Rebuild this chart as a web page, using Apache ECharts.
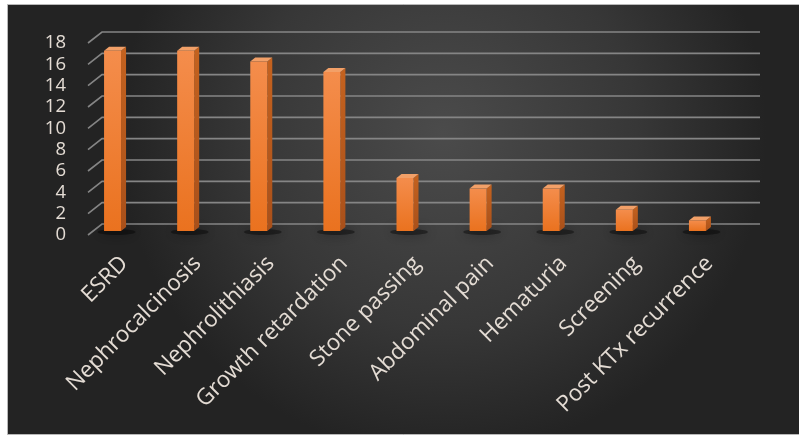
<!DOCTYPE html>
<html>
<head>
<meta charset="utf-8">
<script src="https://cdn.jsdelivr.net/npm/echarts@6/dist/echarts.min.js"></script>
<style>
html,body{margin:0;padding:0;background:#ffffff;}
#chart{width:799px;height:437px;}
</style>
</head>
<body>
<div id="chart"></div>
<script>
const categories = ['ESRD', 'Nephrocalcinosis', 'Nephrolithiasis', 'Growth retardation', 'Stone passing', 'Abdominal pain', 'Hematuria', 'Screening', 'Post KTx recurrence'];
const values = [17, 17, 16, 15, 5, 4, 4, 2, 1];
const yTicks = [0, 2, 4, 6, 8, 10, 12, 14, 16, 18];

const TEXT = '#e4dcd4';
const DX = 14, DY = 11; // back-wall depth offset

const chart = echarts.init(document.getElementById('chart'));

const option = {
  animation: false,
  graphic: [{
    type: 'rect', z: -10, silent: true,
    shape: { x: 7.5, y: 4.5, width: 792, height: 430 },
    style: {
      fill: new echarts.graphic.RadialGradient(0.55, 0.3, 0.75, [
        { offset: 0, color: '#4b4b4b' },
        { offset: 0.6, color: '#373737' },
        { offset: 1, color: '#232323' }
      ]),
      stroke: '#b8b8b8', lineWidth: 1
    }
  }],
  grid: [
    { left: 88, top: 43, width: 658, height: 192 },
    { left: 76, top: 40.2, width: 658, height: 190.8 }
  ],
  xAxis: [
    {
      gridIndex: 0, type: 'category', data: categories,
      axisLine: { show: false }, axisTick: { show: false },
      axisLabel: { rotate: 45, margin: 25, interval: 0, color: TEXT, fontSize: 22.5, fontFamily: 'Open Sans' }
    },
    { gridIndex: 1, type: 'category', data: categories, show: false }
  ],
  yAxis: [
    {
      gridIndex: 0, type: 'value', min: 0, max: 18, interval: 2,
      axisLine: { show: false }, axisTick: { show: false }, splitLine: { show: false },
      axisLabel: { margin: 22, color: TEXT, fontSize: 18.5, fontFamily: 'Open Sans' }
    },
    { gridIndex: 1, type: 'value', min: 0, max: 18, interval: 2, show: false, splitLine: { show: false } }
  ],
  series: [
    {
      type: 'custom', xAxisIndex: 0, yAxisIndex: 0, silent: true, z: 1,
      data: yTicks.map(v => [0, v]),
      renderItem: function (params, api) {
        const cs = params.coordSys;
        const y = api.coord([0, api.value(1)])[1];
        const x0 = cs.x;
        return {
          type: 'polyline',
          shape: { points: [[x0, y], [x0 + DX, y - DY], [x0 + DX + cs.width, y - DY]] },
          style: { stroke: '#858585', lineWidth: 1.6, fill: null }
        };
      }
    },
    {
      type: 'custom', xAxisIndex: 1, yAxisIndex: 1, silent: true, z: 3,
      data: values.map((v, i) => [i, v]),
      renderItem: function (params, api) {
        const top = api.coord([api.value(0), api.value(1)]);
        const bot = api.coord([api.value(0), 0]);
        const w = 17, dx = 5, dy = 4;
        const xL = top[0] - w / 2, xR = xL + w, yT = top[1], yB = bot[1];
        return {
          type: 'group',
          children: [
            {
              type: 'ellipse',
              shape: { cx: top[0] + 4, cy: yB + 1, rx: 19, ry: 3 },
              style: { fill: 'rgba(0,0,0,0.4)', shadowBlur: 12, shadowColor: 'rgba(0,0,0,0.9)' }
            },
            {
              type: 'polygon',
              shape: { points: [[xR, yT], [xR + dx, yT - dy], [xR + dx, yB - dy], [xR, yB]] },
              style: { fill: new echarts.graphic.LinearGradient(0, 0, 0, 1, [
                { offset: 0, color: '#c4621f' }, { offset: 1, color: '#a9501a' }]) }
            },
            {
              type: 'polygon',
              shape: { points: [[xL, yT], [xR, yT], [xR + dx, yT - dy], [xL + dx, yT - dy]] },
              style: { fill: '#f2a068' }
            },
            {
              type: 'rect',
              shape: { x: xL, y: yT, width: w, height: yB - yT },
              style: { fill: new echarts.graphic.LinearGradient(0, 0, 0, 1, [
                { offset: 0, color: '#f48d4c' }, { offset: 1, color: '#ea721f' }]) }
            }
          ]
        };
      }
    }
  ]
};
chart.setOption(option);
</script>
</body>
</html>
